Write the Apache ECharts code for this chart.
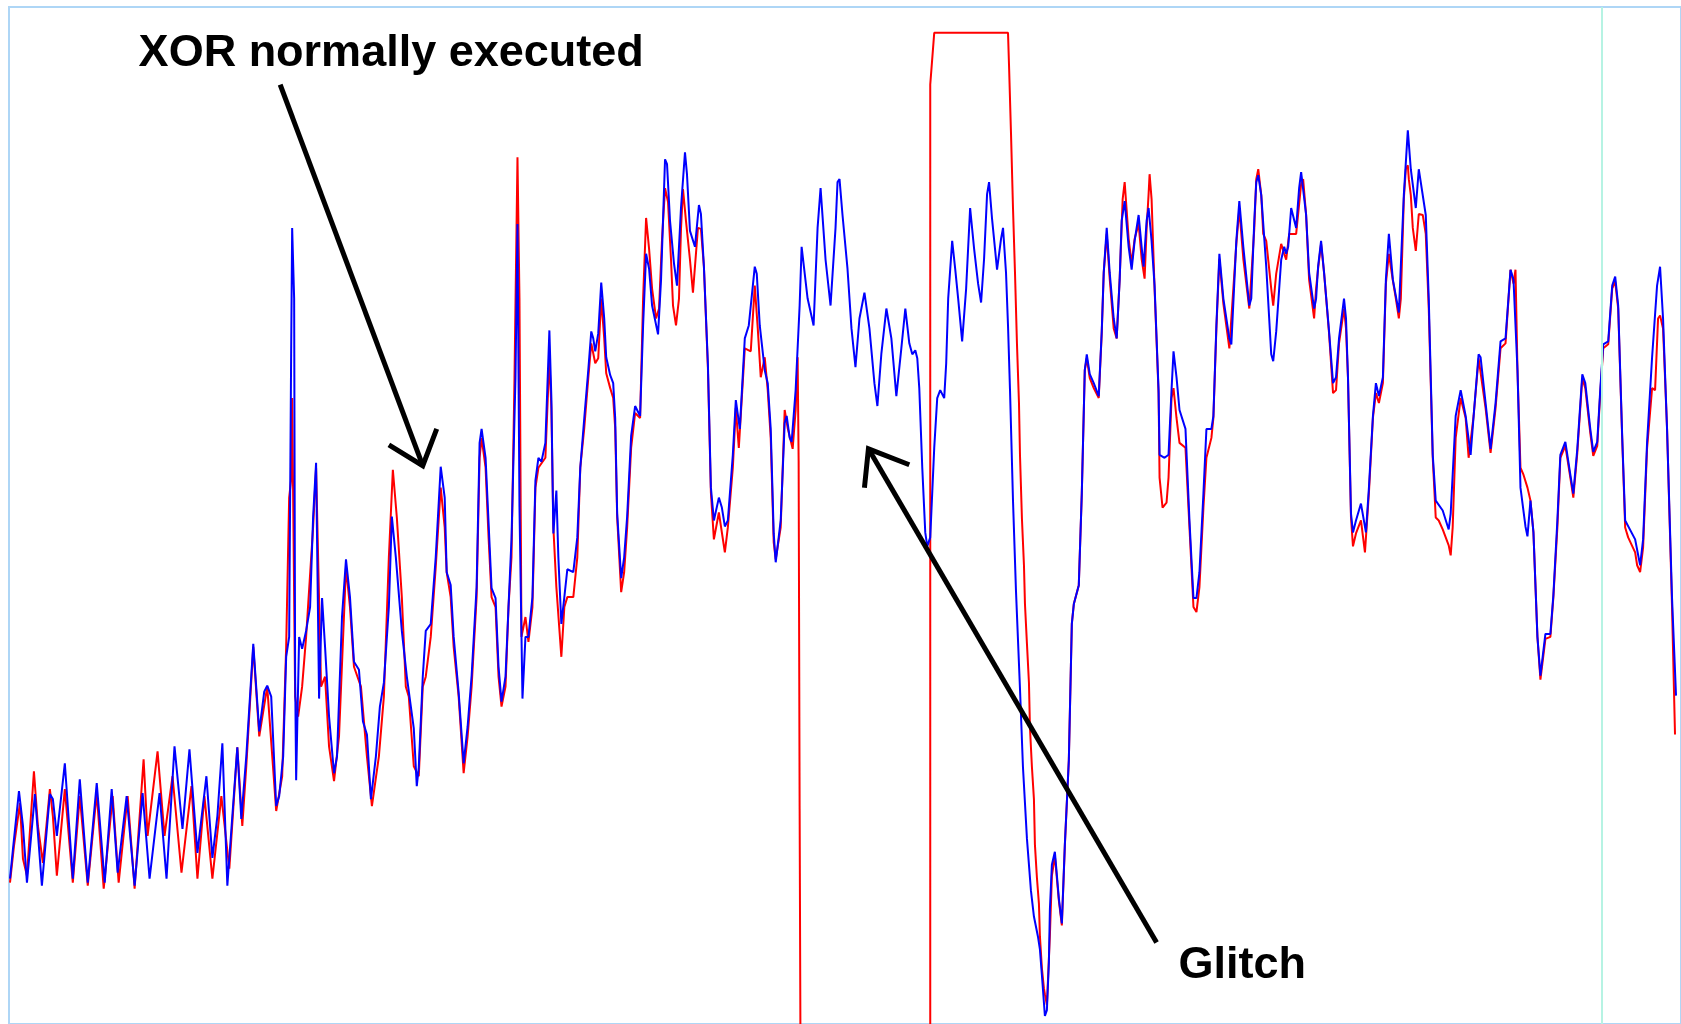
<!DOCTYPE html>
<html>
<head>
<meta charset="utf-8">
<title>XOR glitch power trace</title>
<script src="https://cdn.jsdelivr.net/npm/echarts@6/dist/echarts.min.js"></script>
<style>
  html, body { margin: 0; padding: 0; background: #fff; }
  #chart { width: 1681px; height: 1024px; }
</style>
</head>
<body>
<div id="chart"></div>
<script>
const blueTrace = [
  [10,141],[13,171],[19,229],[23,194],[27,137],[35,226],[42,134],[50,226],[53,221],[57,184],[65,257],[73,141],[80,241],[88,137],[97,237],[105,137],[112,231],[118,147],[127,224],[135,134],[143,227],[150,141],[160,227],[167,141],[175,274],[183,191],[190,271],[198,167],[207,244],[213,162],[218,204],[223,277],[228,134],
  [233,204],[238,273],[242,201],[247,264],[254,377],[260,289],[265,329],[268,335],[272,324],[277,214],[280,224],[284,264],[287,364],[290,384],[292,671],[293,795],[295,724],[296,345],[297,240],[300,384],[303,372],[307,390],[311,414],[314,504],[317,559],[320,322],[323,423],[326,374],[330,304],[335,247],[338,264],[343,404],[347,462],[351,424],[355,359],[360,351],[364,299],[368,286],[372,221],[377,264],[381,314],[385,338],[390,414],[393,505],[397,464],[403,390],[408,344],[415,292],[418,234],
  [420,253],[424,344],[427,390],[432,397],[437,464],[442,555],[446,524],[448,449],[452,436],[455,384],[460,328],[465,257],[469,294],[473,345],[478,434],[481,579],[483,593],[487,564],[490,499],[493,433],[497,423],[500,354],[503,319],[507,344],[510,414],[513,482],[517,645],[519,799],[521,515],[524,322],[527,384],[530,384],[534,424],[537,541],[540,564],[543,560],[547,579],[551,692],[553,624],[555,488],[558,531],[560,464],[563,397],[566,424],[569,452],[575,449],[579,484],[582,554],[586,604],[590,652],[593,691],[595,684],[597,671],[600,689],[603,740],[606,704],[608,665],[612,647],[615,639],[617,604],[619,508],[623,443],[626,464],[629,505],
  [633,586],[637,616],[642,606],[645,697],[648,769],[651,754],[654,717],[660,688],[663,743],[667,864],[669,859],[672,802],[676,759],[679,737],[683,815],[687,871],[689,849],[692,792],[697,776],[701,818],[703,809],[706,756],[710,658],[713,534],[716,501],[721,524],[724,514],[727,495],[730,501],[735,567],[738,622],[742,593],[747,684],[751,697],[757,756],[759,749],[762,697],[767,652],[770,639],[773,593],[776,488],[778,459],[783,501],[787,599],[789,606],[792,584],[794,580],[798,632],[802,717],[804,776],[810,724],[816,697],[820,795],[823,835],[828,763],[833,717],[838,795],[840,841],
  [842,844],[845,808],[850,754],[854,694],[858,655],[862,704],[867,730],[872,694],[877,639],[880,616],[884,669],[889,714],[894,684],[899,626],[904,674],[908,714],[912,679],[915,668],[918,672],[920,664],[922,634],[925,554],[928,489],[930,475],[933,484],[937,574],[940,624],[943,632],[947,624],[949,659],[951,724],[955,782],[958,754],[961,724],[965,681],[969,734],[973,815],[977,774],[981,739],[984,720],[987,764],[990,829],[992,841],[995,804],[1000,753],[1004,784],[1006,795],[1009,750],[1011,697],[1013,632],[1016,521],[1019,430],[1023,332],[1026,253],[1030,181],[1034,129],[1037,103],[1041,83],[1043,70],[1045,44],[1048,3],
  [1050,9],[1052,57],[1053,110],[1055,155],[1058,168],[1062,121],[1065,96],[1068,175],[1072,260],[1075,397],[1077,417],[1082,436],[1085,528],[1088,652],[1090,668],[1093,648],[1097,639],[1102,626],[1105,691],[1107,750],[1110,795],[1113,750],[1117,704],[1120,684],[1123,743],[1125,802],[1128,822],[1132,776],[1135,753],[1138,782],[1142,808],[1145,776],[1147,756],[1150,802],[1152,815],[1155,782],[1158,737],[1162,632],[1163,567],[1168,564],[1172,567],[1175,632],[1177,671],[1180,645],[1183,612],[1189,593],[1193,501],[1197,423],[1200,423],[1203,449],[1207,528],[1210,593],[1215,593],[1217,606],[1220,697],[1223,769],[1227,724],[1233,684],[1235,678],[1240,782],[1243,822],[1247,776],[1253,717],[1255,724],[1258,802],[1260,841],
  [1262,848],[1265,828],[1270,756],[1275,668],[1277,661],[1280,691],[1285,763],[1288,776],[1290,769],[1292,776],[1295,815],[1297,815],[1300,795],[1303,835],[1305,851],[1307,851],[1310,808],[1313,750],[1318,714],[1320,724],[1322,756],[1325,782],[1328,750],[1333,691],[1337,639],[1340,645],[1343,684],[1348,724],[1350,704],[1352,645],[1355,508],[1357,489],[1360,501],[1365,518],[1370,489],[1373,534],[1377,606],[1380,639],[1383,626],[1387,645],[1390,743],[1393,789],[1397,743],[1403,710],[1405,710],[1408,828],[1412,893],[1415,854],[1420,815],[1423,854],[1425,854],[1430,808],[1433,724],[1437,567],[1440,521],[1447,511],[1453,492],[1455,508],[1460,606],[1465,632],[1470,606],
  [1475,567],[1478,606],[1483,668],[1485,665],[1490,619],[1495,573],[1500,619],[1505,681],[1510,684],[1515,753],[1518,743],[1522,652],[1525,534],[1530,495],[1532,485],[1535,521],[1538,489],[1542,384],[1545,345],[1550,387],[1555,387],[1558,426],[1562,501],[1565,567],[1570,580],[1575,547],[1578,528],[1582,573],[1587,648],[1590,639],[1595,593],[1598,570],[1602,580],[1605,632],[1608,678],[1613,681],[1617,737],[1620,746],[1623,717],[1627,586],[1630,501],[1640,482],[1645,456],[1648,482],[1652,580],[1657,665],[1662,737],[1665,756],[1668,704],[1672,593],[1677,423],[1681,325]
];

const redTrace = [
  [10,137],[14,174],[20,217],[23,161],[27,144],[34,249],[38,194],[43,157],[50,231],[53,204],[57,144],[65,231],[73,137],[80,224],[88,134],[97,227],[104,131],[113,224],[119,137],[128,224],[135,131],[144,261],[148,184],[158,269],[165,184],[173,244],[182,147],[192,234],[198,141],[205,224],[213,141],[222,224],[230,151],
  [238,273],[243,194],[247,254],[254,374],[260,284],[268,334],[277,209],[283,244],[287,374],[290,524],[292,542],[293,624],[296,324],[299,304],[303,334],[307,384],[314,494],[317,554],[322,334],[326,344],[330,274],[335,239],[340,284],[347,454],[351,414],[355,354],[362,334],[368,264],[373,214],[380,264],[385,324],[390,464],[394,552],[398,504],[403,424],[407,334],[410,324],[415,254],[420,244],
  [424,334],[427,344],[432,384],[437,454],[442,534],[446,494],[448,449],[452,424],[455,374],[460,324],[465,247],[469,284],[473,334],[478,424],[481,564],[483,584],[487,554],[490,484],[493,424],[497,414],[500,344],[503,314],[507,334],[510,414],[513,464],[516,644],[519,866],[521,724],[523,384],[527,404],[530,379],[534,414],[537,534],[540,554],[547,564],[551,664],[553,614],[555,494],[558,434],[563,364],[566,414],[569,424],[575,424],[579,464],[582,554],[586,594],[590,644],[593,679],[597,659],[600,664],[603,724],[606,684],[608,649],[612,634],[615,624],[617,594],[619,504],[623,429],[626,449],[629,494],
  [633,574],[637,609],[642,604],[645,724],[648,805],[651,774],[654,734],[658,704],[661,714],[664,784],[667,835],[670,821],[673,763],[675,717],[678,697],[681,724],[683,794],[685,834],[688,802],[692,763],[695,730],[700,795],[703,794],[706,756],[710,654],[713,529],[716,482],[721,509],[727,469],[730,494],[735,554],[738,614],[741,574],[747,674],[753,671],[757,737],[760,694],[763,645],[767,665],[770,632],[773,584],[776,479],[778,462],[783,494],[787,612],[790,594],[795,573],[798,612],[800,665],[801,561],[802,211],[803,-76],
  [933,-76],[933,939],[935,939],[937,991],[1011,991],[1012,959],[1014,890],[1016,815],[1018,750],[1020,678],[1022,619],[1023,567],[1025,502],[1027,456],[1028,417],[1030,377],[1032,338],[1033,293],[1035,253],[1037,221],[1038,175],[1040,142],[1042,116],[1043,83],[1045,51],[1047,31],[1048,25],
  [1050,14],[1053,84],[1055,144],[1058,164],[1062,119],[1065,94],[1068,174],[1072,260],[1075,397],[1077,417],[1082,436],[1085,528],[1088,652],[1090,664],[1093,644],[1097,634],[1102,624],[1105,689],[1107,750],[1110,789],[1113,744],[1117,694],[1120,684],[1123,744],[1126,824],[1128,841],[1132,784],[1135,759],[1138,784],[1142,799],[1145,764],[1148,744],[1150,794],[1152,829],[1153,849],[1155,824],[1158,734],[1162,629],[1163,544],[1166,514],[1170,519],[1172,544],[1175,624],[1177,634],[1180,604],[1183,579],[1189,574],[1193,494],[1197,414],[1200,409],[1203,434],[1207,514],[1210,564],[1215,584],[1217,604],[1220,694],[1223,764],[1227,719],[1233,674],[1235,674],[1240,779],[1243,814],[1247,764],[1253,714],[1255,714],[1258,794],[1260,844],
  [1262,854],[1265,828],[1267,789],[1270,782],[1272,782],[1275,734],[1277,717],[1280,749],[1285,779],[1288,769],[1290,763],[1293,789],[1295,789],[1300,789],[1303,819],[1305,839],[1307,844],[1310,808],[1313,743],[1318,704],[1320,734],[1322,754],[1325,779],[1328,750],[1333,689],[1337,629],[1340,632],[1343,679],[1348,714],[1350,694],[1352,644],[1355,504],[1357,475],[1360,488],[1365,501],[1369,469],[1370,484],[1373,529],[1377,604],[1380,629],[1383,619],[1387,639],[1390,739],[1393,769],[1397,742],[1400,724],[1403,704],[1405,724],[1408,824],[1410,854],[1412,858],[1413,844],[1415,828],[1417,795],[1420,772],[1423,809],[1427,808],[1430,789],[1433,714],[1437,564],[1440,504],[1443,501],[1447,492],[1453,476],[1455,466],[1457,494],[1460,584],[1465,624],[1470,604],
  [1473,564],[1478,606],[1483,664],[1485,664],[1490,614],[1495,569],[1500,614],[1505,674],[1510,679],[1515,753],[1518,739],[1520,753],[1522,652],[1525,554],[1528,547],[1532,534],[1535,521],[1538,489],[1542,384],[1545,341],[1550,382],[1555,384],[1558,424],[1562,494],[1565,564],[1570,576],[1575,544],[1578,524],[1582,569],[1587,644],[1590,634],[1595,589],[1598,566],[1602,576],[1605,629],[1608,674],[1613,678],[1617,734],[1620,741],[1623,714],[1627,584],[1630,494],[1633,484],[1640,469],[1642,456],[1645,449],[1648,474],[1652,574],[1657,634],[1660,632],[1663,704],[1665,707],[1668,694],[1672,594],[1677,414],[1680,286]
];

// cursor marker on the scope
const markerTime = 1607;

// annotation arrows and labels, in the same time / level units
const xorArrowShaft = [[281, 939], [424, 556]];
const xorArrowHead = [[390, 577], [424, 556], [438, 593]];
const glitchArrowShaft = [[1160, 77], [871, 573]];
const glitchArrowHead = [[912, 557], [871, 573], [867, 534]];
const labelNames = ['XOR normally executed', 'Glitch'];
const labelAnchors = [[139, 970], [1182, 54]];

const chart = echarts.init(document.getElementById('chart'), null, { renderer: 'canvas' });

const option = {
  animation: false,
  backgroundColor: '#ffffff',
  grid: {
    left: 9,
    top: 7,
    right: -5,
    bottom: -5,
    show: true,
    borderColor: '#aed6f6',
    borderWidth: 2,
    backgroundColor: 'transparent'
  },
  xAxis: {
    type: 'value',
    min: 9,
    max: 1686,
    show: false
  },
  yAxis: {
    type: 'value',
    min: -5,
    max: 1017,
    show: false
  },
  series: [
    {
      name: 'glitched',
      type: 'line',
      data: redTrace,
      symbol: 'none',
      clip: true,
      z: 2,
      lineStyle: { color: '#ff0000', width: 2 },
      markLine: {
        silent: true,
        symbol: 'none',
        label: { show: false },
        lineStyle: { color: '#b6f3e3', width: 2, type: 'solid' },
        data: [{ xAxis: markerTime }]
      }
    },
    {
      name: 'reference',
      type: 'line',
      data: blueTrace,
      symbol: 'none',
      clip: true,
      z: 3,
      lineStyle: { color: '#0000ff', width: 2 }
    },
    {
      name: 'arrows',
      type: 'lines',
      coordinateSystem: 'cartesian2d',
      polyline: true,
      silent: true,
      z: 5,
      lineStyle: { color: '#000000', width: 5, opacity: 1, curveness: 0, cap: 'butt', join: 'miter' },
      data: [
        { coords: xorArrowShaft },
        { coords: xorArrowHead },
        { coords: glitchArrowShaft },
        { coords: glitchArrowHead }
      ]
    },
    {
      name: 'labels',
      type: 'scatter',
      symbolSize: 0,
      silent: true,
      z: 6,
      itemStyle: { opacity: 1 },
      data: labelNames.map((name, i) => ({ name: name, value: labelAnchors[i] })),
      label: {
        show: true,
        position: 'right',
        distance: 0,
        formatter: '{b}',
        color: '#000000',
        opacity: 1,
        fontFamily: 'Liberation Sans',
        fontWeight: 'bold',
        fontSize: 45
      }
    }
  ]
};

chart.setOption(option);
</script>
</body>
</html>
